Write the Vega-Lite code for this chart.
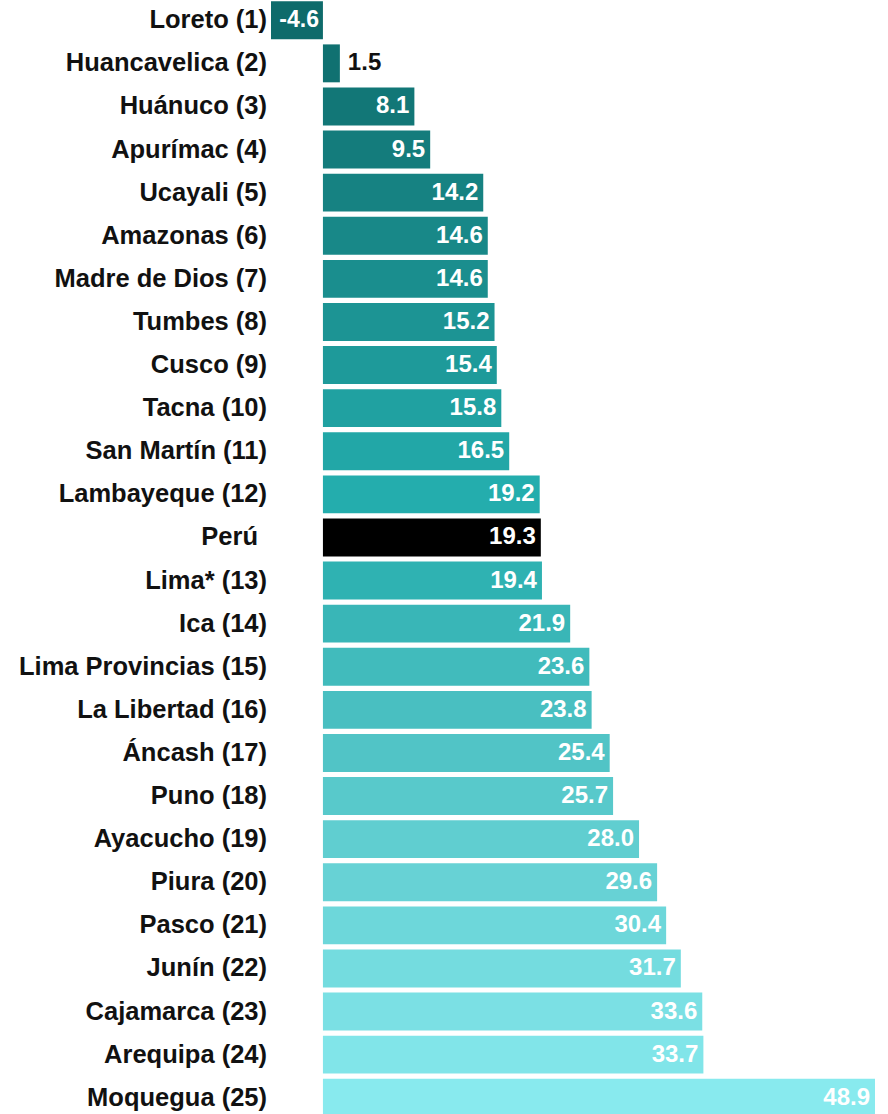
{
  "$schema": "https://vega.github.io/schema/vega-lite/v6.json",
  "autosize": "none",
  "padding": {"left": 271, "top": 0, "right": 0, "bottom": 0},
  "width": 604,
  "height": 1118,
  "background": "white",
  "config": {"view": {"stroke": null}, "font": "Liberation Sans"},
  "data": {"values": [
    {"region": "Loreto (1)", "rank": 1, "value": -4.6},
    {"region": "Huancavelica (2)", "rank": 2, "value": 1.5},
    {"region": "Huánuco (3)", "rank": 3, "value": 8.1},
    {"region": "Apurímac (4)", "rank": 4, "value": 9.5},
    {"region": "Ucayali (5)", "rank": 5, "value": 14.2},
    {"region": "Amazonas (6)", "rank": 6, "value": 14.6},
    {"region": "Madre de Dios (7)", "rank": 7, "value": 14.6},
    {"region": "Tumbes (8)", "rank": 8, "value": 15.2},
    {"region": "Cusco (9)", "rank": 9, "value": 15.4},
    {"region": "Tacna (10)", "rank": 10, "value": 15.8},
    {"region": "San Martín (11)", "rank": 11, "value": 16.5},
    {"region": "Lambayeque (12)", "rank": 12, "value": 19.2},
    {"region": "Perú", "rank": 12.5, "value": 19.3, "national": true},
    {"region": "Lima* (13)", "rank": 13, "value": 19.4},
    {"region": "Ica (14)", "rank": 14, "value": 21.9},
    {"region": "Lima Provincias (15)", "rank": 15, "value": 23.6},
    {"region": "La Libertad (16)", "rank": 16, "value": 23.8},
    {"region": "Áncash (17)", "rank": 17, "value": 25.4},
    {"region": "Puno (18)", "rank": 18, "value": 25.7},
    {"region": "Ayacucho (19)", "rank": 19, "value": 28.0},
    {"region": "Piura (20)", "rank": 20, "value": 29.6},
    {"region": "Pasco (21)", "rank": 21, "value": 30.4},
    {"region": "Junín (22)", "rank": 22, "value": 31.7},
    {"region": "Cajamarca (23)", "rank": 23, "value": 33.6},
    {"region": "Arequipa (24)", "rank": 24, "value": 33.7},
    {"region": "Moquegua (25)", "rank": 25, "value": 48.9}
  ]},
  "transform": [{"calculate": "replace(format(datum.value, '.1f'), '\u2212', '-')", "as": "label"}],
  "encoding": {
    "y": {
      "field": "region", "type": "nominal", "sort": null,
      "scale": {"paddingInner": 0.12, "paddingOuter": 0.03},
      "axis": null
    },
    "x": {
      "type": "quantitative",
      "scale": {"domain": [-4.6, 48.9], "nice": false, "zero": false},
      "axis": null
    }
  },
  "layer": [
    {
      "mark": {"type": "bar"},
      "encoding": {
        "x": {"field": "value", "type": "quantitative"},
        "x2": {"datum": 0},
        "color": {
          "condition": {"test": "datum.national", "value": "#000000"},
          "field": "rank", "type": "quantitative",
          "scale": {"domain": [1, 12, 25], "range": ["#0e6b6b", "#24adad", "#88eaee"]},
          "legend": null
        }
      }
    },
    {
      "transform": [{"filter": "!datum.national"}],
      "mark": {"type": "text", "align": "right", "baseline": "middle", "dx": -4, "fontSize": 25.5, "fontWeight": "bold", "color": "#111111", "font": "Liberation Sans"},
      "encoding": {
        "x": {"datum": -4.6},
        "text": {"field": "region", "type": "nominal"}
      }
    },
    {
      "transform": [{"filter": "datum.national"}],
      "mark": {"type": "text", "align": "right", "baseline": "middle", "dx": -13, "fontSize": 25.5, "fontWeight": "bold", "color": "#111111", "font": "Liberation Sans"},
      "encoding": {
        "x": {"datum": -4.6},
        "text": {"field": "region", "type": "nominal"}
      }
    },
    {
      "transform": [{"filter": "datum.value >= 3"}],
      "mark": {"type": "text", "align": "right", "baseline": "middle", "dx": -5, "fontSize": 24, "fontWeight": "bold", "color": "white", "font": "Liberation Sans"},
      "encoding": {
        "x": {"field": "value", "type": "quantitative"},
        "text": {"field": "label", "type": "nominal"}
      }
    },
    {
      "transform": [{"filter": "datum.value >= 0 && datum.value < 3"}],
      "mark": {"type": "text", "align": "left", "baseline": "middle", "dx": 8, "fontSize": 24, "fontWeight": "bold", "color": "#111111", "font": "Liberation Sans"},
      "encoding": {
        "x": {"field": "value", "type": "quantitative"},
        "text": {"field": "label", "type": "nominal"}
      }
    },
    {
      "transform": [{"filter": "datum.value < 0"}],
      "mark": {"type": "text", "align": "right", "baseline": "middle", "dx": -4, "fontSize": 23, "fontWeight": "bold", "color": "white", "font": "Liberation Sans"},
      "encoding": {
        "x": {"datum": 0},
        "text": {"field": "label", "type": "nominal"}
      }
    }
  ]
}
